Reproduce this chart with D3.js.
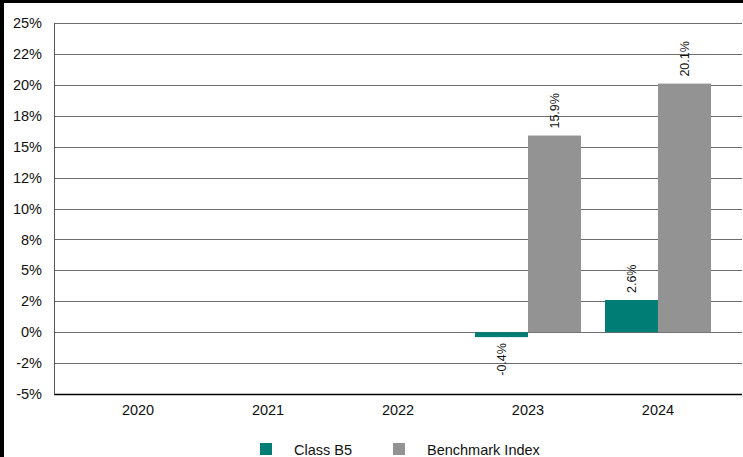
<html>
<head>
<script src="https://d3js.org/d3.v7.min.js"></script>
<style>
  body { margin: 0; background: #fff; }
  text { font-family: "Liberation Sans", Arial, sans-serif; fill: #111; }
</style>
</head>
<body>
<svg width=743 height=457></svg>
<script>
const years = ['2020', '2021', '2022', '2023', '2024'];
const series = ['Class B5', 'Benchmark Index'];
const classB5 = [null, null, null, -0.4, 2.6];
const benchmark = [null, null, null, 15.9, 20.1];
const tickValues = [-5, -2.5, 0, 2.5, 5, 7.5, 10, 12.5, 15, 17.5, 20, 22.5, 25];
const tickLabels = ['-5%', '-2%', '0%', '2%', '5%', '8%', '10%', '12%', '15%', '18%', '20%', '22%', '25%'];
const colors = ['#007d74', '#939393'];

const svg = d3.select('svg');

// frame edges (top and left are all that show)
svg.append('rect').attr('x', 0).attr('y', 0).attr('width', 743).attr('height', 3).attr('fill', '#000');
svg.append('rect').attr('x', 0).attr('y', 0).attr('width', 4).attr('height', 457).attr('fill', '#000');

const plotLeft = 54, plotRight = 742, plotTop = 23, plotBottom = 394;
const labelFont = '"Liberation Sans", Arial, sans-serif';

let y = d3.scaleLinear().domain([-5, 25]).range([plotBottom, plotTop]);
let x = d3.scaleBand().domain(years).range([plotLeft, plotRight])
  .paddingInner(0.1846).paddingOuter(0.2385);
let xs = d3.scaleBand().domain(series).range([0, x.bandwidth()]);

// gridlines
svg.append('g')
  .selectAll('line')
  .data(tickValues)
  .join('line')
  .attr('x1', plotLeft).attr('x2', plotRight)
  .attr('y1', d => Math.round(y(d)) + 0.5).attr('y2', d => Math.round(y(d)) + 0.5)
  .attr('stroke', d => d == -5 ? '#000' : '#6e6e6e')
  .attr('stroke-width', d => d == -5 ? 1.5 : 1);

// y axis
let yAxis = svg.append('g')
  .attr('transform', `translate(${plotLeft}, 0)`)
  .call(d3.axisLeft(y).tickValues(tickValues).tickSize(0).tickPadding(12)
    .tickFormat((d, i) => tickLabels[i]));
yAxis.select('.domain').attr('stroke', '#555');
yAxis.selectAll('text').attr('font-size', 14.5).attr('font-family', labelFont).attr('fill', '#111');

// x axis labels
let xAxis = svg.append('g')
  .attr('transform', `translate(0, ${plotBottom})`)
  .call(d3.axisBottom(x).tickSize(0).tickPadding(11));
xAxis.select('.domain').remove();
xAxis.selectAll('text').attr('font-size', 14.5).attr('font-family', labelFont).attr('fill', '#111');

// bars
const rows = years.map((yr, i) => ({ year: yr, values: [classB5[i], benchmark[i]] }));
let groups = svg.append('g')
  .selectAll('g')
  .data(rows)
  .join('g')
  .attr('transform', d => `translate(${x(d.year)}, 0)`);

groups.selectAll('rect')
  .data(d => d.values.map((v, k) => ({ s: series[k], v, k })).filter(e => e.v != null))
  .join('rect')
  .attr('x', d => xs(d.s))
  .attr('width', xs.bandwidth())
  .attr('y', d => y(Math.max(0, d.v)))
  .attr('height', d => Math.abs(y(d.v) - y(0)))
  .attr('fill', d => colors[d.k]);

groups.selectAll('text.val')
  .data(d => d.values.map((v, k) => ({ s: series[k], v, k })).filter(e => e.v != null))
  .join('text')
  .attr('class', 'val')
  .attr('transform', d => {
    let cx = xs(d.s) + xs.bandwidth() / 2;
    let cy = d.v >= 0 ? y(d.v) - 7 : y(d.v) + 6;
    return `translate(${cx + 4.5}, ${cy}) rotate(-90)`;
  })
  .attr('text-anchor', d => d.v >= 0 ? 'start' : 'end')
  .attr('font-family', '"DejaVu Sans", sans-serif')
  .attr('font-size', 12.5)
  .text(d => d.v.toFixed(1) + '%');

// legend
let legend = svg.append('g').attr('transform', 'translate(260, 443)');
let legendX = [0, 133];
series.forEach((s, i) => {
  legend.append('rect').attr('x', legendX[i]).attr('y', 0).attr('width', 12).attr('height', 12).attr('fill', colors[i]);
  legend.append('text').attr('x', legendX[i] + 34).attr('y', 11.5).attr('font-size', 14.5).text(s);
});
</script>
</body>
</html>
